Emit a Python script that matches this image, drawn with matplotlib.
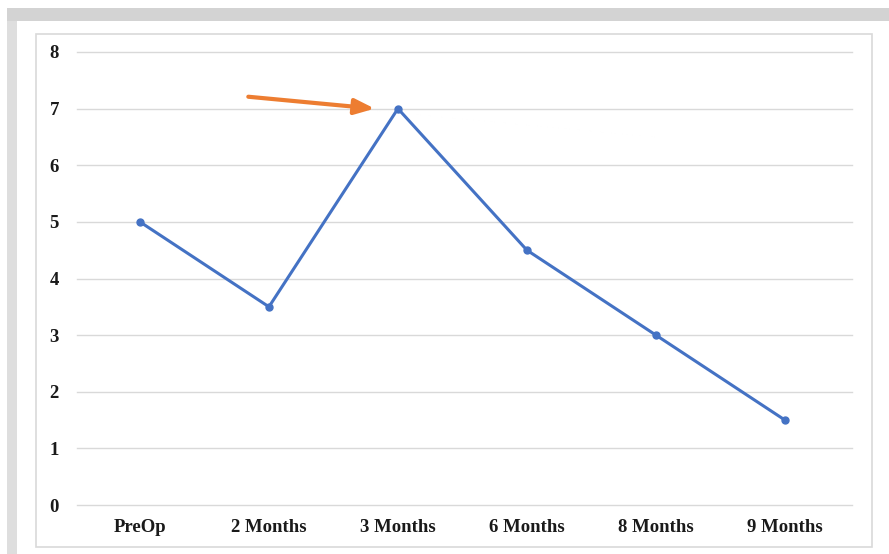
import matplotlib
matplotlib.use("Agg")
import matplotlib.pyplot as plt
from matplotlib.patches import Rectangle, FancyArrowPatch

categories = ["PreOp", "2 Months", "3 Months", "6 Months", "8 Months", "9 Months"]
values = [5, 3.5, 7, 4.5, 3, 1.5]
yticks = [0, 1, 2, 3, 4, 5, 6, 7, 8]

W, H = 889, 554
fig = plt.figure(figsize=(W / 100, H / 100), dpi=100)
fig.patch.set_facecolor("white")

def px_rect(x0, y0, x1, y1, **kw):
    r = Rectangle((x0 / W, 1 - y1 / H), (x1 - x0) / W, (y1 - y0) / H,
                  transform=fig.transFigure, zorder=-5, **kw)
    fig.patches.append(r)

# outer gray frame
px_rect(7, 8, 889, 21, facecolor="#d3d3d3", edgecolor="none")
px_rect(7, 21, 17, 554, facecolor="#dedede", edgecolor="none")
# chart border
px_rect(36, 34, 872, 547, facecolor="white", edgecolor="#d9d9d9", linewidth=1.2)

ax = fig.add_axes([77 / W, 1 - 505 / H, (852 - 77) / W, (505 - 52) / H])
ax.set_zorder(5)
ax.set_facecolor("none")
x = list(range(len(categories)))
ax.plot(x, values, color="#4472C4", linewidth=2.2, marker="o", markersize=5, zorder=3)

ax.set_xlim(-0.488, len(categories) - 0.48)
ax.set_ylim(0, 8)
ax.set_yticks(yticks)
ax.set_xticks(x)
ax.set_xticklabels(categories)
for s in ax.spines.values():
    s.set_visible(False)
ax.grid(axis="y", color="#d9d9d9", linewidth=1)
for gl in ax.get_ygridlines():
    gl.set_clip_on(False)
ax.tick_params(length=0)
ax.tick_params(axis="y", pad=13)
ax.tick_params(axis="x", pad=10)
ax.set_axisbelow(True)
for lab in ax.get_xticklabels() + ax.get_yticklabels():
    lab.set_fontfamily("Liberation Serif")
    lab.set_fontweight("bold")
    lab.set_fontsize(13.5)
    lab.set_color("#1a1a1a")

arrow = FancyArrowPatch((0.84, 7.21), (1.82, 7.0),
                        arrowstyle="-|>,head_length=12,head_width=4.7",
                        color="#ED7D31", linewidth=3, mutation_scale=1,
                        shrinkA=0, shrinkB=0, zorder=4)
ax.add_patch(arrow)

fig.savefig("out.png", dpi=100)
